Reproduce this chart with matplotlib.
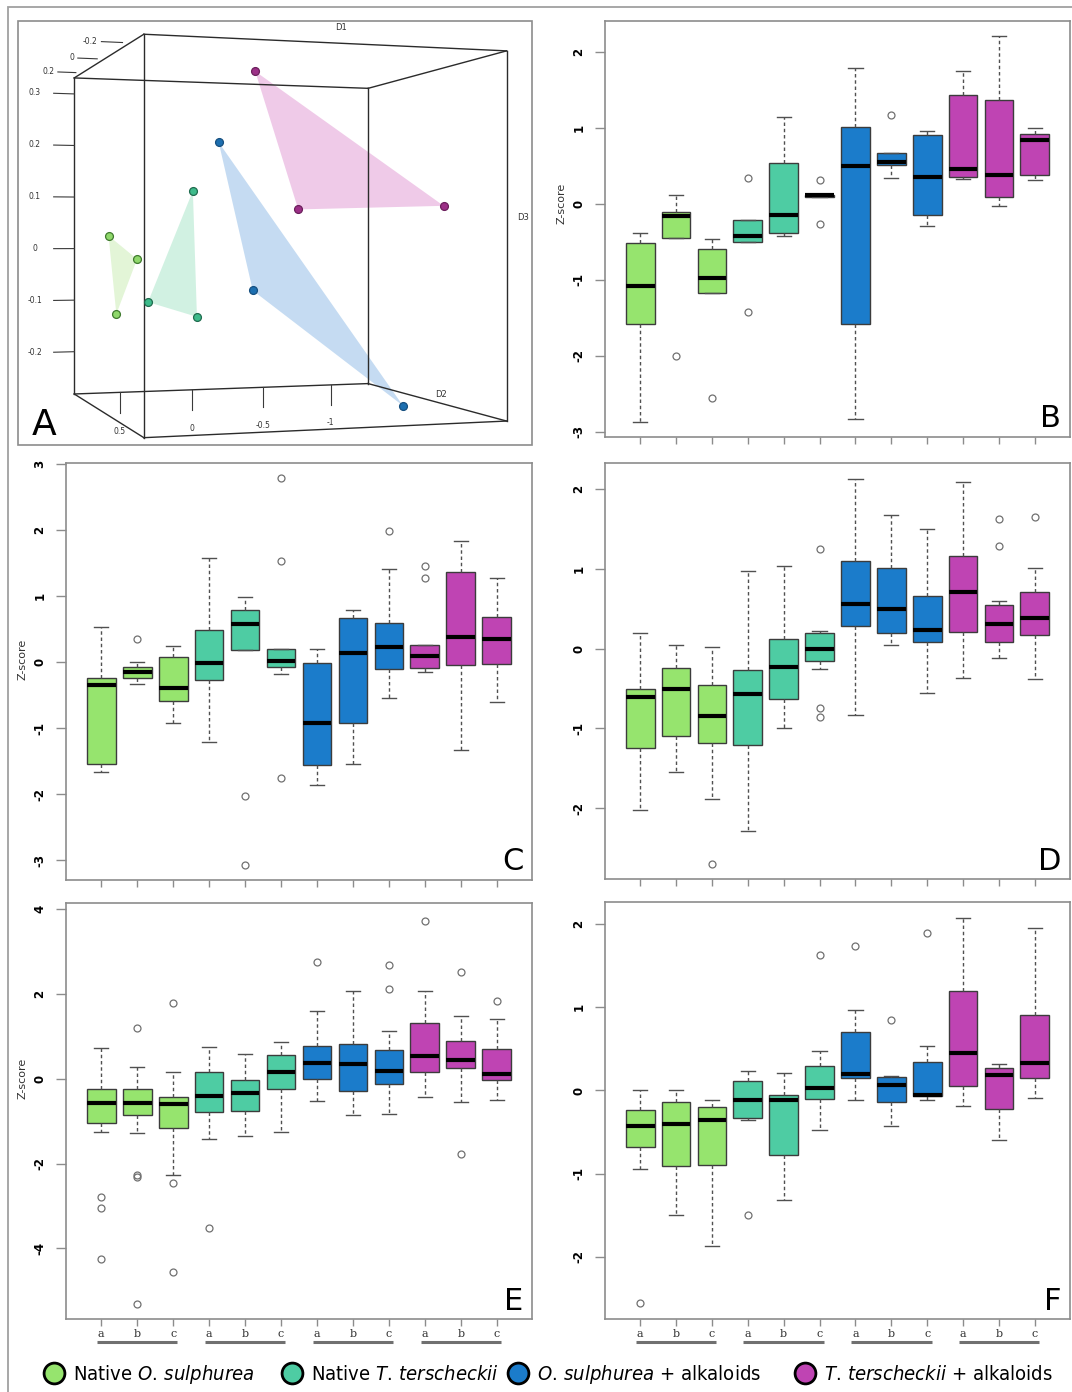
import itertools
import numpy as np
import matplotlib
matplotlib.use("Agg")
import matplotlib.pyplot as plt
import matplotlib.transforms as mtransforms
from matplotlib.lines import Line2D
from matplotlib.patches import Rectangle
from mpl_toolkits.mplot3d.art3d import Poly3DCollection

plt.rcParams["font.family"] = ["DejaVu Sans"]
plt.rcParams["axes.unicode_minus"] = False
plt.rcParams["mathtext.fontset"] = "custom"
plt.rcParams["mathtext.rm"] = "DejaVu Sans:stretch=condensed"
plt.rcParams["mathtext.it"] = "DejaVu Sans:italic:stretch=condensed"

# ------------------------------------------------------------------ data
group_names = [r"Native $\mathit{O.\,sulphurea}$",
               r"Native $\mathit{T.\,terscheckii}$",
               r"$\mathit{O.\,sulphurea}$ + alkaloids",
               r"$\mathit{T.\,terscheckii}$ + alkaloids"]
group_colors = ["#96e46e", "#4ecca3", "#1b7ccb", "#bf44b3"]
hull_colors = ["#dcf3cd", "#c6eedb", "#b7d3ef", "#ecbde3"]
point_colors = ["#8fd86b", "#3dbb8b", "#1d6fb0", "#9c2f87"]
point_edges = ["#3f7a2e", "#1f6b4e", "#164f80", "#6b1e5c"]
box_group = [0, 0, 0, 1, 1, 1, 2, 2, 2, 3, 3, 3]
sub_labels = ["a", "b", "c", "a", "b", "c", "a", "b", "c", "a", "b", "c"]

# Panel A : ordination scores (D1, D2, D3) for 12 samples
pcoa_group = [0, 0, 0, 1, 1, 1, 2, 2, 2, 3, 3, 3]
pcoa_D1 = [0.110, 0.110, 0.110, -0.120, -0.120, -0.120,
           -0.120, -0.120, -0.120, -0.120, -0.120, -0.120]
pcoa_D2 = [0.700, 0.520, 0.651, 0.379, 0.640, 0.355,
           0.226, 0.022, -0.919, 0.007, -0.256, -1.186]
pcoa_D3 = [0.025, -0.018, -0.118, 0.100, -0.085, -0.111,
           0.182, -0.068, -0.274, 0.304, 0.070, 0.078]
D1_lim = (-0.293, 0.283)
D2_lim = (-1.282, 0.805)
D3_lim = (-0.282, 0.331)
D1_ticks = [-0.2, 0, 0.2]
D2_ticks = [0.5, 0, -0.5, -1]
D3_ticks = [0.3, 0.2, 0.1, 0, -0.1, -0.2]

# Panel B
B_lo = [-2.87, -0.45, -1.18, -0.51, -0.42, 0.09, -2.83, 0.34, -0.30, 0.33, -0.03, 0.31]
B_q1 = [-1.58, -0.45, -1.18, -0.51, -0.38, 0.09, -1.58, 0.51, -0.15, 0.35, 0.09, 0.38]
B_med = [-1.08, -0.16, -0.98, -0.43, -0.15, 0.11, 0.49, 0.55, 0.35, 0.45, 0.38, 0.84]
B_q3 = [-0.52, -0.11, -0.59, -0.22, 0.53, 0.12, 1.01, 0.67, 0.91, 1.43, 1.36, 0.92]
B_hi = [-0.38, 0.12, -0.46, -0.22, 1.14, 0.12, 1.79, 0.67, 0.96, 1.75, 2.21, 1.00]
B_out = [[], [-2.01], [-2.56], [0.34, -1.43], [], [0.31, -0.27], [], [1.17], [], [], [], []]

# Panel C
C_lo = [-1.67, -0.33, -0.92, -1.21, 0.18, -0.19, -1.87, -1.55, -0.54, -0.15, -1.34, -0.61]
C_q1 = [-1.55, -0.24, -0.59, -0.27, 0.18, -0.08, -1.56, -0.92, -0.10, -0.09, -0.05, -0.03]
C_med = [-0.35, -0.16, -0.39, -0.02, 0.57, 0.02, -0.93, 0.14, 0.23, 0.09, 0.37, 0.35]
C_q3 = [-0.24, -0.07, 0.08, 0.49, 0.79, 0.19, -0.02, 0.67, 0.59, 0.25, 1.36, 0.68]
C_hi = [0.53, 0.00, 0.24, 1.58, 0.98, 0.19, 0.19, 0.78, 1.41, 0.25, 1.83, 1.27]
C_out = [[], [0.34], [], [], [-2.03, -3.07], [2.78, 1.53, -1.76], [], [], [1.98],
         [1.45, 1.27], [], []]

# Panel D
D_lo = [-2.02, -1.55, -1.89, -2.28, -1.00, -0.26, -0.83, 0.04, -0.55, -0.37, -0.12, -0.38]
D_q1 = [-1.24, -1.09, -1.18, -1.21, -0.63, -0.15, 0.28, 0.20, 0.08, 0.21, 0.08, 0.17]
D_med = [-0.61, -0.51, -0.84, -0.57, -0.23, 0.00, 0.56, 0.50, 0.23, 0.71, 0.31, 0.38]
D_q3 = [-0.51, -0.24, -0.45, -0.27, 0.12, 0.19, 1.10, 1.01, 0.66, 1.16, 0.55, 0.71]
D_hi = [0.19, 0.04, 0.02, 0.97, 1.04, 0.22, 2.13, 1.68, 1.50, 2.09, 0.60, 1.01]
D_out = [[], [], [-2.70], [], [], [1.25, -0.74, -0.86], [], [], [], [], [1.63, 1.28], [1.65]]

# Panel E
E_lo = [-1.26, -1.27, -2.26, -1.41, -1.34, -1.25, -0.52, -0.86, -0.82, -0.42, -0.55, -0.49]
E_q1 = [-1.04, -0.85, -1.15, -0.78, -0.76, -0.25, 0.00, -0.29, -0.12, 0.17, 0.26, -0.03]
E_med = [-0.58, -0.56, -0.60, -0.41, -0.34, 0.17, 0.38, 0.34, 0.19, 0.54, 0.44, 0.11]
E_q3 = [-0.23, -0.25, -0.42, 0.15, -0.04, 0.55, 0.78, 0.82, 0.68, 1.31, 0.90, 0.70]
E_hi = [0.72, 0.29, 0.17, 0.74, 0.59, 0.86, 1.61, 2.07, 1.13, 2.07, 1.48, 1.41]
E_out = [[-2.80, -3.06, -4.25], [1.19, -2.27, -2.31, -5.31], [1.78, -2.47, -4.55], [-3.51],
         [], [], [2.75], [], [2.69, 2.12], [3.72], [2.51, -1.78], [1.83]]

# Panel F
F_lo = [-0.94, -1.50, -1.87, -0.35, -1.32, -0.48, -0.12, -0.43, -0.12, -0.19, -0.60, -0.09]
F_q1 = [-0.68, -0.91, -0.90, -0.33, -0.78, -0.10, 0.15, -0.14, -0.07, 0.05, -0.22, 0.15]
F_med = [-0.43, -0.40, -0.36, -0.12, -0.11, 0.03, 0.20, 0.07, -0.05, 0.45, 0.19, 0.33]
F_q3 = [-0.23, -0.14, -0.20, 0.11, -0.05, 0.29, 0.70, 0.16, 0.34, 1.20, 0.27, 0.91]
F_hi = [0.00, 0.00, -0.11, 0.23, 0.21, 0.48, 0.97, 0.17, 0.54, 2.08, 0.32, 1.96]
F_out = [[-2.56], [], [], [-1.50], [], [1.63], [1.74], [0.85], [1.90], [], [], []]

# ------------------------------------------------------------------ layout
W, H = 1072, 1392
fig = plt.figure(figsize=(W / 100, H / 100), dpi=100)


def px_rect(x0, y0, x1, y1):
    return [x0 / W, 1 - y1 / H, (x1 - x0) / W, (y1 - y0) / H]


FRAME = "#8c8c8c"

# outer frame and frame of panel A
fig.add_artist(Rectangle((8 / W, -0.01), 1.05, 1 - 7 / H + 0.01, fill=False,
                         ec="#a0a0a0", lw=1.3, transform=fig.transFigure))
fig.add_artist(Rectangle((18 / W, 1 - 445 / H), (532 - 18) / W, (445 - 21) / H,
                         fill=False, ec=FRAME, lw=1.2, transform=fig.transFigure))

# ------------------------------------------------------------------ panel A (3D)
axA = fig.add_axes(px_rect(55.1, 29.2, 480.1, 454.2), projection="3d",
                   computed_zorder=False)
axA.set_proj_type("persp", focal_length=0.604)
axA.set_box_aspect((1, 1, 1), zoom=1.349)
axA.view_init(elev=0, azim=162, roll=0)
axA.set_xlim(D1_lim)
axA.set_ylim(D2_lim)
axA.set_zlim(D3_lim)
axA.set_xticks([])
axA.set_yticks([])
axA.set_zticks([])
axA.set_axis_off()
axA.patch.set_alpha(0)

# wire box
corners = list(itertools.product(D1_lim, D2_lim, D3_lim))
for p, q in itertools.combinations(corners, 2):
    if sum(a != b for a, b in zip(p, q)) == 1:
        axA.plot(*zip(p, q), color="#2b2b2b", lw=1.0, zorder=2, clip_on=False)

# convex hulls (triangles) and points
for g in range(4):
    idx = [i for i, k in enumerate(pcoa_group) if k == g]
    verts = [[(pcoa_D1[i], pcoa_D2[i], pcoa_D3[i]) for i in idx]]
    poly = Poly3DCollection(verts, facecolor=hull_colors[g], edgecolor="none", alpha=0.8)
    poly.set_zorder(1)
    axA.add_collection3d(poly)
for g in range(4):
    idx = [i for i, k in enumerate(pcoa_group) if k == g]
    axA.scatter([pcoa_D1[i] for i in idx], [pcoa_D2[i] for i in idx],
                [pcoa_D3[i] for i in idx], s=32, c=point_colors[g],
                edgecolors=point_edges[g], linewidths=0.9, depthshade=False, zorder=5)

# labels of the 3D box: projected with the axes' own projection matrix
M3 = axA.get_proj()


def label3d(x, y, z, s, **kw):
    v = M3 @ np.array([x, y, z, 1.0])
    axA.text2D(v[0] / v[3], v[1] / v[3], s, transform=axA.transData,
               color="#333333", **kw)


d2span = D2_lim[1] - D2_lim[0]
d3span = D3_lim[1] - D3_lim[0]
d1span = D1_lim[1] - D1_lim[0]
TK = "#3a3a3a"
for v in D3_ticks:
    axA.plot([D1_lim[1]] * 2, [D2_lim[1], D2_lim[1] + 0.065 * d2span], [v, v],
             color=TK, lw=0.8, zorder=2, clip_on=False)
    label3d(D1_lim[1], D2_lim[1] + 0.125 * d2span, v, f"{v:g}", fontsize=5.5,
            ha="center", va="center")
for v in D1_ticks:
    axA.plot([v, v], [D2_lim[1] + 0.02 * d2span, D2_lim[1] + 0.075 * d2span],
             [D3_lim[1]] * 2, color=TK, lw=0.8, zorder=2, clip_on=False)
    label3d(v, D2_lim[1] + 0.085 * d2span, D3_lim[1], f"{v:g}", fontsize=5.5,
            ha="right", va="center")
for v in D2_ticks:
    axA.plot([D1_lim[1]] * 2, [v, v], [D3_lim[0], D3_lim[0] - 0.066 * d3span],
             color=TK, lw=0.8, zorder=2, clip_on=False)
    label3d(D1_lim[1], v, D3_lim[0] - 0.125 * d3span, f"{v:g}", fontsize=5.5,
            ha="center", va="center")
label3d(D1_lim[0], D2_lim[0] + 0.478 * d2span, D3_lim[1] + 0.04 * d3span, "D1",
        fontsize=6, ha="center", va="center")
label3d(D1_lim[0] + 0.417 * d1span, D2_lim[0], D3_lim[0] + 0.025 * d3span, "D2",
        fontsize=6, ha="center", va="center")
label3d(D1_lim[0], D2_lim[0] - 0.05 * d2span, D3_lim[0] + 0.551 * d3span, "D3",
        fontsize=6, ha="center", va="center")
fig.text(32 / W, 1 - 435 / H, "A", fontsize=26, ha="left", va="baseline")

# ------------------------------------------------------------------ box panels
box_colors = [group_colors[g] for g in box_group]


def box_panel(rect, lo, q1, med, q3, hi, out, ylim, yticks, letter,
              ylab_y=None, xlabels=False):
    ax = fig.add_axes(rect)
    stats = [dict(whislo=a, q1=b, med=c, q3=d, whishi=e, fliers=f)
             for a, b, c, d, e, f in zip(lo, q1, med, q3, hi, out)]
    pos = np.arange(1, len(stats) + 1)
    bp = ax.bxp(stats, positions=pos, widths=0.8, capwidths=0.4, patch_artist=True,
                showfliers=True,
                boxprops=dict(edgecolor="#3c3c3c", linewidth=1.0),
                medianprops=dict(color="black", linewidth=3.0, solid_capstyle="butt"),
                whiskerprops=dict(color="#505050", linewidth=1.0, linestyle=(0, (2.5, 2))),
                capprops=dict(color="#505050", linewidth=1.0),
                flierprops=dict(marker="o", markerfacecolor="none",
                                markeredgecolor="#707070", markersize=5,
                                markeredgewidth=0.9))
    for patch, col in zip(bp["boxes"], box_colors):
        patch.set_facecolor(col)
    ax.set_xlim(0.02, 12.98)
    ax.set_ylim(*ylim)
    ax.set_yticks(yticks)
    ax.set_yticklabels([f"{t:g}" for t in yticks], rotation=90, va="center",
                       fontweight="bold", fontsize=8.5)
    ax.set_xticks(pos)
    for s in ax.spines.values():
        s.set_color(FRAME)
        s.set_linewidth(1.2)
    ax.tick_params(axis="y", direction="out", length=7, width=1, color=FRAME, pad=7)
    ax.tick_params(axis="x", direction="out", length=5, width=1, color=FRAME, pad=2)
    if xlabels:
        ax.set_xticklabels(sub_labels, fontsize=8, family="DejaVu Serif", color="#333333")
        trans = mtransforms.blended_transform_factory(ax.transData, ax.transAxes)
        for g in range(4):
            members = [p for p, k in zip(pos, box_group) if k == g]
            ax.plot([min(members) - 0.12, max(members) + 0.12], [-0.054, -0.054],
                    transform=trans, clip_on=False, color="#707070", lw=2.2,
                    solid_capstyle="butt")
    else:
        ax.tick_params(axis="x", labelbottom=False)
    if ylab_y is not None:
        ax.set_ylabel("Z-score", fontsize=8, color="#333333")
        ax.yaxis.set_label_coords(-0.083, ylab_y)
    ax.text(0.981, 0.023, letter, transform=ax.transAxes, fontsize=22,
            ha="right", va="baseline")
    return ax


box_panel(px_rect(605, 20.7, 1070, 436.7), B_lo, B_q1, B_med, B_q3, B_hi, B_out,
          (-3.066, 2.408), [-3, -2, -1, 0, 1, 2], "B", ylab_y=0.56)
box_panel(px_rect(66, 463, 532, 880), C_lo, C_q1, C_med, C_q3, C_hi, C_out,
          (-3.30, 3.01), [-3, -2, -1, 0, 1, 2, 3], "C", ylab_y=0.53)
box_panel(px_rect(605, 462.7, 1070, 879.3), D_lo, D_q1, D_med, D_q3, D_hi, D_out,
          (-2.89, 2.33), [-2, -1, 0, 1, 2], "D")
box_panel(px_rect(66, 902.7, 532, 1319.3), E_lo, E_q1, E_med, E_q3, E_hi, E_out,
          (-5.676, 4.156), [-4, -2, 0, 2, 4], "E", ylab_y=0.578, xlabels=True)
box_panel(px_rect(605, 902, 1070, 1319.3), F_lo, F_q1, F_med, F_q3, F_hi, F_out,
          (-2.753, 2.268), [-2, -1, 0, 1, 2], "F", xlabels=True)

# ------------------------------------------------------------------ legend
legend_centers_px = [54, 292, 518, 805]
for col, name, cx in zip(group_colors, group_names, legend_centers_px):
    h = Line2D([], [], ls="none", marker="o", ms=15, mfc=col, mec="black", mew=2)
    fig.legend([h], [name], loc="center left",
               bbox_to_anchor=((cx - 10) / W, 1 - 1375 / H),
               frameon=False, handletextpad=0.45, handlelength=1.0,
               borderaxespad=0, borderpad=0,
               prop=dict(family="DejaVu Sans", size=14.5, stretch="condensed"))

fig.savefig("out.png", dpi=100)
